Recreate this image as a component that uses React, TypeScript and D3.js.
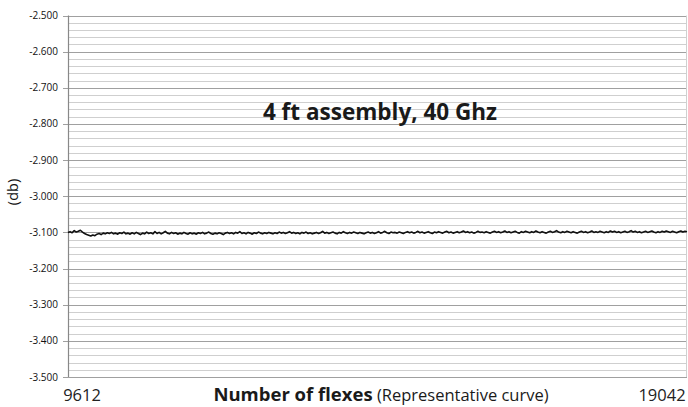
import React from "react";
import * as d3 from "d3";

const flexStart = 9612;
const flexEnd = 19042;
const yTicks = [-2.5, -2.6, -2.7, -2.8, -2.9, -3.0, -3.1, -3.2, -3.3, -3.4, -3.5];
const lossDb = [
  -3.100, -3.098, -3.101, -3.095, -3.099, -3.097, -3.094, -3.099, -3.103, -3.106, -3.108, -3.110, -3.107, -3.109, -3.105, -3.103, -3.106, -3.102, -3.104, -3.101,
  -3.103, -3.100, -3.104, -3.102, -3.105, -3.101, -3.103, -3.099, -3.104, -3.102, -3.105, -3.101, -3.104, -3.100, -3.103, -3.106, -3.102, -3.104, -3.099, -3.103,
  -3.101, -3.104, -3.098, -3.103, -3.100, -3.104, -3.101, -3.097, -3.102, -3.104, -3.100, -3.103, -3.101, -3.105, -3.102, -3.104, -3.100, -3.103, -3.105, -3.101,
  -3.104, -3.102, -3.105, -3.101, -3.103, -3.100, -3.104, -3.102, -3.099, -3.103, -3.105, -3.102, -3.104, -3.101, -3.103, -3.106, -3.102, -3.100, -3.103, -3.101,
  -3.104, -3.100, -3.102, -3.098, -3.103, -3.101, -3.104, -3.100, -3.102, -3.105, -3.101, -3.103, -3.099, -3.102, -3.104, -3.101, -3.103, -3.100, -3.102, -3.104,
  -3.101, -3.103, -3.099, -3.102, -3.100, -3.103, -3.101, -3.098, -3.102, -3.100, -3.103, -3.101, -3.104, -3.100, -3.102, -3.099, -3.103, -3.101, -3.104, -3.102,
  -3.100, -3.103, -3.101, -3.097, -3.102, -3.100, -3.103, -3.101, -3.099, -3.102, -3.104, -3.100, -3.102, -3.098, -3.101, -3.103, -3.100, -3.102, -3.099, -3.101,
  -3.103, -3.100, -3.102, -3.104, -3.101, -3.099, -3.102, -3.100, -3.103, -3.101, -3.098, -3.102, -3.100, -3.097, -3.101, -3.103, -3.099, -3.101, -3.100, -3.102,
  -3.099, -3.101, -3.103, -3.100, -3.098, -3.101, -3.099, -3.102, -3.100, -3.097, -3.101, -3.099, -3.102, -3.100, -3.098, -3.101, -3.103, -3.099, -3.101, -3.098,
  -3.100, -3.102, -3.099, -3.097, -3.101, -3.099, -3.102, -3.100, -3.098, -3.101, -3.099, -3.096, -3.100, -3.098, -3.101, -3.099, -3.102, -3.100, -3.097, -3.100,
  -3.099, -3.101, -3.098, -3.100, -3.102, -3.099, -3.097, -3.100, -3.098, -3.101, -3.099, -3.096, -3.100, -3.098, -3.101, -3.099, -3.097, -3.100, -3.102, -3.098,
  -3.100, -3.097, -3.099, -3.101, -3.098, -3.100, -3.096, -3.099, -3.101, -3.098, -3.100, -3.102, -3.099, -3.097, -3.100, -3.098, -3.095, -3.099, -3.101, -3.098,
  -3.100, -3.097, -3.099, -3.101, -3.098, -3.100, -3.102, -3.099, -3.097, -3.100, -3.098, -3.101, -3.099, -3.096, -3.100, -3.098, -3.100, -3.097, -3.099, -3.101,
  -3.098, -3.100, -3.096, -3.099, -3.097, -3.100, -3.098, -3.101, -3.099, -3.097, -3.100, -3.098, -3.095, -3.099, -3.097, -3.100, -3.098, -3.101, -3.099, -3.097,
  -3.100, -3.098, -3.096, -3.099, -3.101, -3.098, -3.100, -3.097, -3.099, -3.096, -3.098, -3.100, -3.097, -3.099, -3.101, -3.098, -3.096, -3.099, -3.097, -3.098,
];

const W = 688;
const H = 407;
const m = { left: 68, right: 687, top: 15.5, bottom: 377 };

export default function App() {
  const x = d3.scaleLinear().domain([0, lossDb.length - 1]).range([m.left, m.right]);
  const y = d3.scaleLinear().domain([-3.5, -2.5]).range([m.bottom, m.top]);
  const minor = d3.range(0, 51).map((i) => -3.5 + i * 0.02);
  const line = d3
    .line<number>()
    .x((_, i) => x(i))
    .y((d) => y(d));
  const font = "'Open Sans', 'Noto Sans', sans-serif";
  return (
    <svg
      width={W}
      height={H}
      style={{ position: "absolute", left: 0, top: 0, background: "#fff" }}
    >
      {minor.map((v, i) =>
        i % 5 === 0 ? null : (
          <line
            key={"mn" + i}
            x1={m.left}
            x2={m.right}
            y1={Math.round(y(v)) + 0.5}
            y2={Math.round(y(v)) + 0.5}
            stroke="#cfcfcf"
            strokeWidth={1}
          />
        )
      )}
      {yTicks.map((v) => (
        <g key={"mj" + v}>
          <line
            x1={m.left - 5}
            x2={m.right}
            y1={Math.round(y(v)) + 0.5}
            y2={Math.round(y(v)) + 0.5}
            stroke="#a0a0a0"
            strokeWidth={1}
          />
          <text
            x={58}
            y={y(v) + 3.5}
            textAnchor="end"
            fontFamily={font}
            fontSize={10}
            fill="#111"
          >
            {v.toFixed(3)}
          </text>
        </g>
      ))}
      <line x1={m.right - 0.5} x2={m.right - 0.5} y1={m.top} y2={m.bottom} stroke="#d0d0d0" />
      <line x1={m.left + 0.5} x2={m.left + 0.5} y1={m.top} y2={m.bottom} stroke="#888" strokeWidth={1.2} />
      <path d={line(lossDb) || ""} fill="none" stroke="#111" strokeWidth={1.6} strokeLinejoin="round" />
      <text
        x={380}
        y={120}
        textAnchor="middle"
        fontFamily={font}
        fontWeight="bold"
        fontSize={22.5}
        fill="#1a1a1a"
      >
        4 ft assembly, 40 Ghz
      </text>
      <text
        transform="translate(18,192) rotate(-90)"
        textAnchor="middle"
        fontFamily={font}
        fontSize={14.5}
        fill="#111"
      >
        (db)
      </text>
      <text x={82} y={401} textAnchor="middle" fontFamily={font} fontSize={16.5} fill="#222">
        {flexStart}
      </text>
      <text x={662} y={401} textAnchor="middle" fontFamily={font} fontSize={16.5} fill="#222">
        {flexEnd}
      </text>
      <text x={381} y={401} textAnchor="middle" fontFamily={font} fill="#1a1a1a">
        <tspan fontWeight="bold" fontSize={18.5}>Number of flexes</tspan>
        <tspan fontSize={16.5}> (Representative curve)</tspan>
      </text>
    </svg>
  );
}
